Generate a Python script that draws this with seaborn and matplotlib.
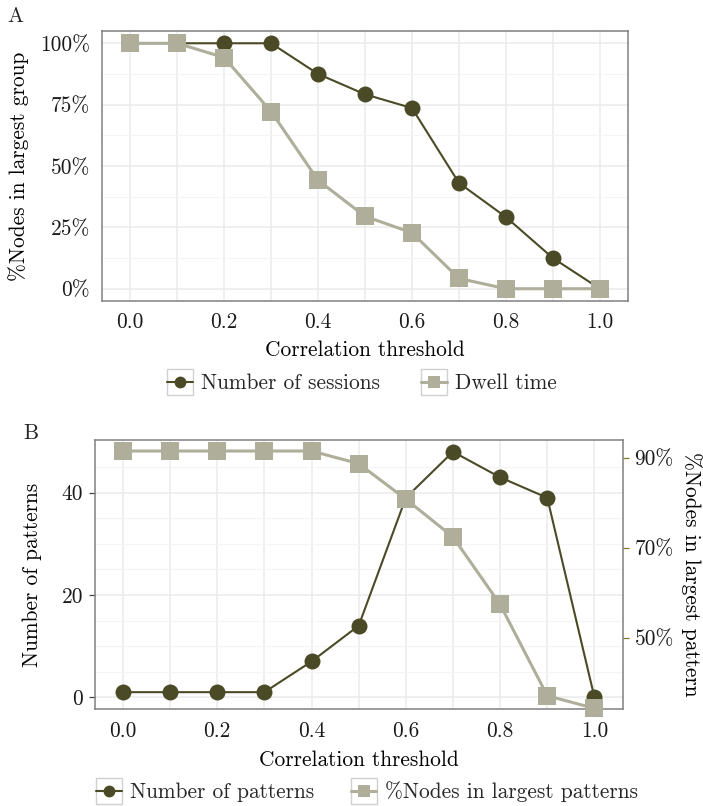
import numpy as np
import pandas as pd
import matplotlib
matplotlib.use("Agg")
import matplotlib.pyplot as plt
import seaborn as sns
from matplotlib.lines import Line2D
from matplotlib.patches import Rectangle
from matplotlib.transforms import IdentityTransform

# ---- data ---------------------------------------------------------------
thresholds = [0.0, 0.1, 0.2, 0.3, 0.4, 0.5, 0.6, 0.7, 0.8, 0.9, 1.0]

# Panel A: % of nodes in the largest group
sessions_pct = [100, 100, 100, 100, 87.5, 79.2, 73.6, 43.1, 29.2, 12.5, 0]
dwell_pct = [100, 100, 94.2, 72.2, 44.2, 29.5, 22.8, 4.2, 0, 0, 0]

# Panel B: number of patterns and % of nodes in the largest pattern
n_patterns = [1, 1, 1, 1, 7, 14, 39, 48, 43, 39, 0]
largest_pattern_pct = [91.5, 91.5, 91.5, 91.5, 91.5, 88.7, 80.8, 72.4, 57.4, 37.1, 34.3]

x_tick_labels = ["0.0", "", "0.2", "", "0.4", "", "0.6", "", "0.8", "", "1.0"]
a_y_ticks = [0, 25, 50, 75, 100]
b_left_ticks = [0, 20, 40]
b_right_ticks = [50, 70, 90]

df_a = pd.DataFrame({"threshold": thresholds, "sessions": sessions_pct, "dwell": dwell_pct})
df_b = pd.DataFrame({"threshold": thresholds, "patterns": n_patterns, "largest": largest_pattern_pct})

# ---- style --------------------------------------------------------------
sns.set_style("white")
plt.rcParams["font.family"] = ["cmr10", "DejaVu Serif"]
plt.rcParams["mathtext.fontset"] = "cm"
plt.rcParams["axes.unicode_minus"] = False
plt.rcParams["axes.formatter.use_mathtext"] = True

FS = 15.4
DARK = "#4B4A26"
LIGHT = "#AEAE9A"
GRID_MAJOR = "#EBEBEB"
GRID_MINOR = "#F4F4F4"
BORDER = "#808080"
TICK = "#444444"

W, H = 703, 806
fig = plt.figure(figsize=(W / 100, H / 100), dpi=100)


def px_axes(left, top, right, bottom):
    return fig.add_axes([left / W, 1 - bottom / H, (right - left) / W, (bottom - top) / H])


def style_axes(ax):
    ax.set_facecolor("white")
    for s in ax.spines.values():
        s.set_color(BORDER)
        s.set_linewidth(1.1)
    ax.set_xlim(-0.06, 1.06)
    ax.set_xticks(thresholds)
    ax.set_xticklabels(x_tick_labels)
    ax.tick_params(axis="both", which="major", length=4, width=0.9, color=TICK,
                   labelsize=FS, labelcolor="#1a1a1a", pad=4.5)
    ax.tick_params(axis="both", which="minor", length=0)
    ax.grid(True, which="major", color=GRID_MAJOR, linewidth=1.1)
    ax.grid(True, which="minor", color=GRID_MINOR, linewidth=0.8)
    ax.set_axisbelow(True)


def draw_series(ax, data, col, marker, color, lw, ms):
    sns.lineplot(data=data, x="threshold", y=col, ax=ax, color=color, linewidth=lw,
                 marker=marker, markersize=ms, markeredgewidth=0, markeredgecolor=color)
    for ln in ax.lines:
        ln.set_clip_on(False)


def key_boxes(leg):
    fig.canvas.draw()
    for h in leg.legend_handles:
        xd = np.asarray(h.get_xdata(), dtype=float)
        yd = np.asarray(h.get_ydata(), dtype=float)
        pts = h.get_transform().transform(np.column_stack([xd, yd]))
        cx, cy = pts[:, 0].mean(), pts[:, 1].mean()
        fig.add_artist(Rectangle((cx - 13, cy - 13), 26, 26, transform=IdentityTransform(),
                                 facecolor="none", edgecolor="#D0D0D0", linewidth=1.0))


# ---- panel A ------------------------------------------------------------
ax_a = px_axes(102, 31, 628, 301)
style_axes(ax_a)
draw_series(ax_a, df_a, "sessions", "o", DARK, 1.5, 11.5)
draw_series(ax_a, df_a, "dwell", "s", LIGHT, 2.2, 12.3)
ax_a.set_ylim(-5, 105)
ax_a.set_yticks(a_y_ticks)
ax_a.set_yticklabels([f"{v}%" for v in a_y_ticks])
ax_a.set_yticks([12.5, 37.5, 62.5, 87.5], minor=True)
ax_a.set_xlabel("Correlation threshold", fontsize=FS, color="black")
ax_a.set_ylabel("%Nodes in largest group", fontsize=FS, color="black")
ax_a.xaxis.set_label_coords(0.5, -0.181)
ax_a.xaxis.label.set_va("center")
ax_a.yaxis.set_label_coords(-0.158, 0.5)
ax_a.yaxis.label.set_va("center")

handles_a = [
    Line2D([], [], color=DARK, lw=1.5, marker="o", markersize=8.5, markeredgewidth=0),
    Line2D([], [], color=LIGHT, lw=2.2, marker="s", markersize=8.5, markeredgewidth=0),
]
leg_a = fig.legend(handles_a, ["Number of sessions", "Dwell time"], loc="center",
                   bbox_to_anchor=(362 / W, 1 - 383.5 / H), ncol=2, frameon=False,
                   fontsize=FS, handlelength=1.2, handletextpad=0.4, columnspacing=1.9)

fig.text(15 / W, 1 - 16 / H, "A", fontsize=FS, ha="center", va="center")

# ---- panel B ------------------------------------------------------------
ax_b = px_axes(94.7, 440, 622.7, 709.3)
style_axes(ax_b)
draw_series(ax_b, df_b, "patterns", "o", DARK, 1.5, 11.5)
ax_b.set_ylim(-2.35, 50.3)
ax_b.set_yticks(b_left_ticks)
ax_b.set_yticklabels([str(v) for v in b_left_ticks])
ax_b.set_yticks([5, 10, 15, 25, 30, 35, 45], minor=True)
ax_b.set_xlabel("Correlation threshold", fontsize=FS, color="black")
ax_b.set_ylabel("Number of patterns", fontsize=FS, color="black")
ax_b.xaxis.set_label_coords(0.5, -0.188)
ax_b.xaxis.label.set_va("center")
ax_b.yaxis.set_label_coords(-0.119, 0.5)
ax_b.yaxis.label.set_va("center")

ax_b2 = ax_b.twinx()
draw_series(ax_b2, df_b, "largest", "s", LIGHT, 2.2, 12.3)
ax_b2.set_ylim(34.09, 93.95)
ax_b2.set_yticks(b_right_ticks)
ax_b2.set_yticklabels([f"{v}%" for v in b_right_ticks])
ax_b2.grid(False)
for s in ax_b2.spines.values():
    s.set_visible(False)
ax_b2.tick_params(axis="y", length=4, width=0.9, color="#7A7A35", labelsize=FS,
                  labelcolor="#1a1a1a", pad=4.5)
ax_b2.set_ylabel("%Nodes in largest pattern", fontsize=FS, color="black", rotation=270)
ax_b2.yaxis.set_label_coords(1.131, 0.5)
ax_b2.yaxis.label.set_va("center")

handles_b = [
    Line2D([], [], color=DARK, lw=1.5, marker="o", markersize=8.5, markeredgewidth=0),
    Line2D([], [], color=LIGHT, lw=2.2, marker="s", markersize=8.5, markeredgewidth=0),
]
leg_b = fig.legend(handles_b, ["Number of patterns", "%Nodes in largest patterns"], loc="center",
                   bbox_to_anchor=(367 / W, 1 - 792 / H), ncol=2, frameon=False,
                   fontsize=FS, handlelength=1.2, handletextpad=0.4, columnspacing=1.7)

fig.text(31 / W, 1 - 433 / H, "B", fontsize=FS, ha="center", va="center")

key_boxes(leg_a)
key_boxes(leg_b)

fig.savefig("out.png", dpi=100)
